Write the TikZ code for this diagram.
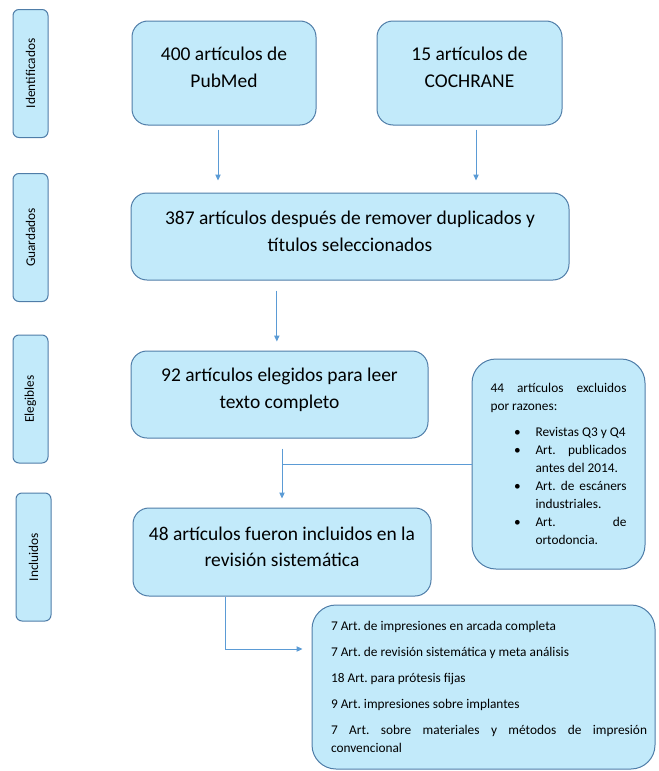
\documentclass[tikz,border=0pt]{standalone}
\usepackage{fontspec}
\setmainfont{Carlito}
\usetikzlibrary{arrows.meta}
\definecolor{relleno}{HTML}{C2EAFA}
\definecolor{borde}{HTML}{4F7DA8}
\definecolor{linea}{HTML}{5B9BD5}
\frenchspacing

\begin{document}
\begin{tikzpicture}[x=0.75pt, y=-0.75pt, c/.style={draw=borde, fill=relleno, line width=0.75pt, rounded corners=12pt, inner sep=0pt, align=center, text depth=8pt, font=\fontsize{14.6}{20}\selectfont}, e/.style={draw=borde, fill=relleno, line width=0.75pt, rounded corners=4.5pt, rotate=90, minimum width=96pt, minimum height=26.25pt, inner sep=0pt, font=\fontsize{10}{12}\selectfont}, g/.style={draw=borde, fill=relleno, line width=0.75pt, rounded corners=18pt, inner sep=0pt, align=justify, font=\fontsize{10}{13.5}\selectfont}, f/.style={draw=linea, line width=0.75pt, -{Triangle[width=4pt,length=4.5pt]}}, l/.style={draw=linea, line width=0.75pt}]
		\useasboundingbox (0,0) rectangle (659,771);

		\node[e] (ident) at (30.5,73.5) {Identificados};
		\node[e] (guard) at (30.5,237.5) {Guardados};
		\node[e] (elegb) at (30.5,399) {Elegibles};
		\node[e] (inclu) at (33.5,557) {Incluidos};

		\node[c, text depth=9pt, minimum width=138pt, minimum height=78pt] (pub) at (224,73) {400 artículos de\\PubMed};
		\node[c, text depth=9pt, minimum width=138.75pt, minimum height=78pt] (coch) at (469.5,73) {15 artículos de\\COCHRANE};
		\node[c, minimum width=328.5pt, minimum height=65.25pt] (sel) at (350,236.5) {387 artículos después de remover duplicados y\\títulos seleccionados};
		\node[c, text depth=9.5pt, minimum width=222.75pt, minimum height=65.25pt] (eleg) at (279.5,394.5) {92 artículos elegidos para leer\\texto completo};
		\node[c, minimum width=223.5pt, minimum height=66pt] (incl) at (282,552) {48 artículos fueron incluidos en la\\revisión sistemática};

		\node[g, minimum width=129.75pt, minimum height=157.5pt, text width=102pt] (excl) at (558.5,464) {44 artículos excluidos\linebreak por razones:
			\begin{list}{\textbullet}{\setlength{\leftmargin}{33.75pt}\setlength{\labelsep}{11pt}\setlength{\labelwidth}{6pt}\setlength{\topsep}{6pt}\setlength{\itemsep}{0pt}\setlength{\parsep}{0pt}\setlength{\partopsep}{0pt}}
				\item Revistas Q3 y Q4
				\item Art. publicados\linebreak antes del 2014.
				\item Art. de escáners\linebreak industriales.
				\item Art. de\linebreak ortodoncia.
			\end{list}};

		\node[g, minimum width=257.25pt, minimum height=123pt, text width=245.25pt] (tipos) at (483.5,687) {\setlength{\parskip}{6pt}\setlength{\leftskip}{8.25pt}7 Art. de impresiones en arcada completa\par
			7 Art. de revisión sistemática y meta análisis\par
			18 Art. para prótesis fijas\par
			9 Art. impresiones sobre implantes\par
			7 Art. sobre materiales y métodos de impresión\linebreak convencional\par};

		\draw[f, shorten <=3pt, shorten >=9pt] ([xshift=-4.5pt]pub.south) -- ([xshift=-4.5pt]pub.south |- sel.north);
		\draw[f, shorten <=3pt, shorten >=9pt] ([xshift=4.9pt]coch.south) -- ([xshift=4.9pt]coch.south |- sel.north);
		\draw[f, shorten <=7.5pt, shorten >=6.75pt] ([xshift=-2pt]eleg.north |- sel.south) -- ([xshift=-2pt]eleg.north);
		\draw[f, shorten <=7.5pt, shorten >=6.75pt] (incl.north |- eleg.south) -- (incl.north);
		\coordinate (rama) at (incl.north |- excl.west);
		\draw[l] (rama) -- (excl.west);
		\coordinate (codo) at (225,649);
		\draw[f, shorten >=6.75pt] (incl.south -| codo) -- (codo) -- (codo -| tipos.west);
	\end{tikzpicture}
\end{document}
